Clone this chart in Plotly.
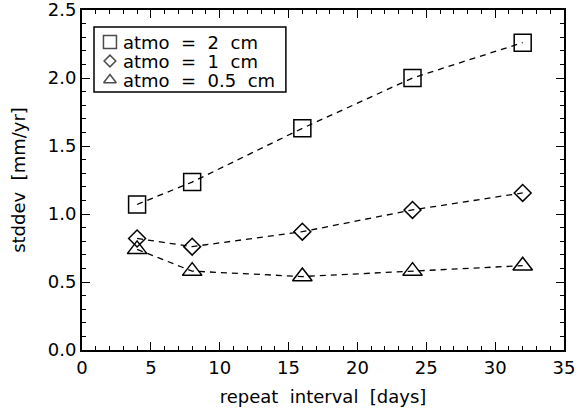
import plotly.graph_objects as go

interval = [4, 8, 16, 24, 32]
std_2cm = [1.07, 1.235, 1.63, 2.0, 2.26]
std_1cm = [0.82, 0.76, 0.87, 1.03, 1.155]
std_05cm = [0.74, 0.58, 0.54, 0.58, 0.62]
labels = ["atmo\u00a0 =\u00a0 2\u00a0 cm", "atmo\u00a0 =\u00a0 1\u00a0 cm", "atmo\u00a0 =\u00a0 0.5\u00a0 cm"]
symbols = ["square-open", "diamond-open", "triangle-up-open"]
sizes = [17, 13, 17]
legend_sizes = [13, 9, 11]

FONT = "DejaVu Sans"
fig = go.Figure()
for ys, sym, sz in zip([std_2cm, std_1cm, std_05cm], symbols, sizes):
    fig.add_trace(go.Scatter(
        x=interval, y=ys, mode="lines+markers", showlegend=False,
        line=dict(color="black", width=1.3, dash="6px,5px"),
        marker=dict(symbol=sym, size=sz, color="black", line=dict(color="black", width=1.5)),
        hoverinfo="x+y",
    ))

# Legend (drawn manually to match the compact IDL-style legend box)
leg_x0, leg_x1, leg_y0, leg_y1 = 0.0249, 0.423, 0.759, 0.950
row_y = [0.906, 0.850, 0.794]
fig.add_shape(type="rect", xref="paper", yref="paper",
              x0=leg_x0, x1=leg_x1, y0=leg_y0, y1=leg_y1,
              line=dict(color="black", width=1.5), fillcolor="rgba(0,0,0,0)", layer="above")
fig.add_trace(go.Scatter(
    x=[0.058] * 3, y=row_y, mode="markers", xaxis="x2", yaxis="y2", showlegend=False,
    marker=dict(symbol=symbols, size=legend_sizes, color="black", line=dict(color="black", width=1.5)),
    hoverinfo="skip",
))
for yy, lab in zip(row_y, labels):
    fig.add_annotation(x=0.082, y=yy, xref="paper", yref="paper", text=lab,
                       showarrow=False, xanchor="left", yanchor="middle", height=18, valign="middle",
                       borderpad=0,
                       font=dict(family=FONT, size=18, color="black"))

axis_common = dict(
    showline=True, linecolor="black", linewidth=1.8, mirror="allticks",
    ticks="inside", ticklen=8, tickwidth=1, tickcolor="black",
    showgrid=False, zeroline=False, automargin=False, ticklabeloverflow="allow",
    tickfont=dict(family=FONT, size=18, color="black"),
)
fig.update_xaxes(range=[0, 35], dtick=5, tick0=0,
                 minor=dict(ticks="inside", ticklen=4, dtick=1, tickcolor="black", tickwidth=1),
                 title=dict(text="repeat\u00a0 interval\u00a0 [days]", font=dict(family=FONT, size=18, color="black"), standoff=14),
                 **axis_common)
fig.update_yaxes(range=[0, 2.5], dtick=0.5, tick0=0, tickformat=".1f",
                 minor=dict(ticks="inside", ticklen=4, dtick=0.1, tickcolor="black", tickwidth=1),
                 title=dict(text="stddev\u00a0 [mm/yr]", font=dict(family=FONT, size=18, color="black"), standoff=18),
                 **axis_common)
fig.update_layout(
    width=578, height=410,
    margin=dict(l=82, r=14, t=10, b=60),
    paper_bgcolor="white", plot_bgcolor="white",
    font=dict(family=FONT, color="black"),
    showlegend=False,
    xaxis2=dict(overlaying="x", range=[0, 1], visible=False, fixedrange=True),
    yaxis2=dict(overlaying="y", range=[0, 1], visible=False, fixedrange=True),
)
fig.write_html("out.html")
